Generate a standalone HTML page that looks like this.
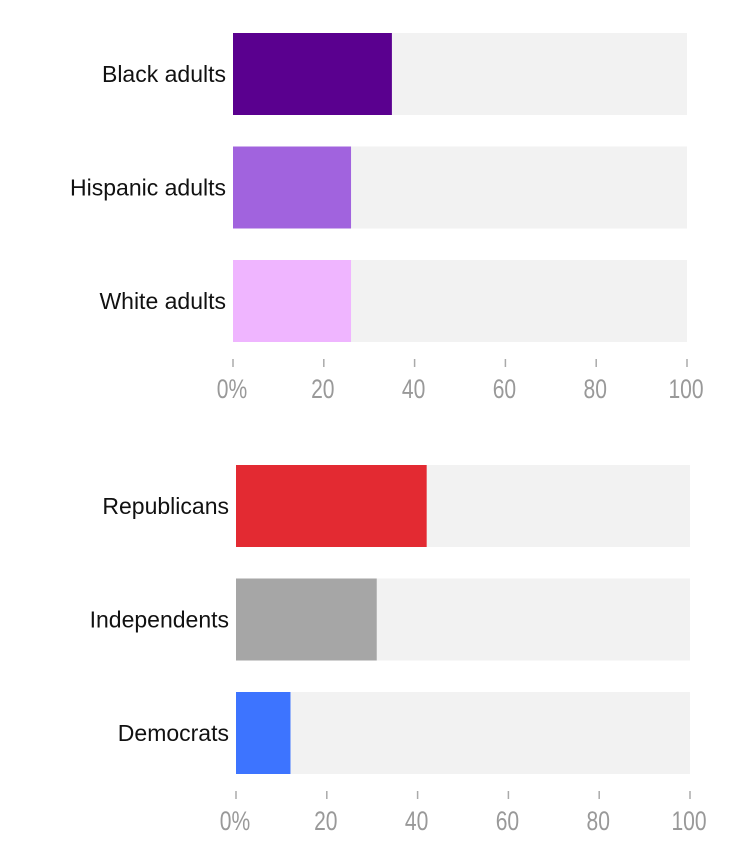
<!DOCTYPE html>
<html><head><meta charset="utf-8"><style>
body{margin:0;background:#fff;}
svg{display:block;font-family:"Liberation Sans",sans-serif;}
</style></head><body>
<svg id="c" width="750" height="842"></svg>
<script>
const cats1 = ["Black adults","Hispanic adults","White adults"];
const vals1 = [35,26,26];
const colors1 = ["#5a008f","#a163de","#efb5ff"];
const cats2 = ["Republicans","Independents","Democrats"];
const vals2 = [42,31,12];
const colors2 = ["#e32a32","#a6a6a6","#3d74ff"];
const ticks = [0,20,40,60,80,100];
const tickLabels = ["0%","20","40","60","80","100"];
const NS="http://www.w3.org/2000/svg";
const svg=document.getElementById('c');
function mk(t,a){const e=document.createElementNS(NS,t);for(const k in a)e.setAttribute(k,a[k]);return e;}
function chart(name,cats,vals,cols,x0,top){
  const g=mk('g',{});
  
  
  svg.appendChild(g);
  const W=454,bh=82,step=113.5;
  const x=v=>x0+v/100*W;
  cats.forEach((c,i)=>{
    const y=top+i*step;
    const bg=mk('rect',{x:x(0),y:y,width:x(100)-x(0),height:bh,fill:'#f2f2f2'});
    
    
    g.appendChild(bg);
    const r=mk('rect',{x:x(0),y:y,width:x(vals[i])-x(0),height:bh,fill:cols[i]});
    
    
    g.appendChild(r);
    const t=mk('text',{x:x0-7,y:y+bh/2+8,'text-anchor':'end','font-size':23,fill:'#111'});
    t.textContent=c;
    
    
    g.appendChild(t);
  });
  const ay=top+2*step+bh;
  ticks.forEach((v,i)=>{
    const l=mk('line',{x1:x(v),x2:x(v),y1:ay+17,y2:ay+25,stroke:'#aaa','stroke-width':1.5});
    
    
    g.appendChild(l);
    const t=mk('text',{x:0,y:0,'text-anchor':'middle','font-size':27,fill:'#999',transform:`translate(${x(v)-1},${ay+56}) scale(0.78,1)`});
    t.textContent=tickLabels[i];
    
    
    g.appendChild(t);
  });
}
chart('race-chart',cats1,vals1,colors1,233,33);
chart('party-chart',cats2,vals2,colors2,236,465);
</script>
</body></html>
